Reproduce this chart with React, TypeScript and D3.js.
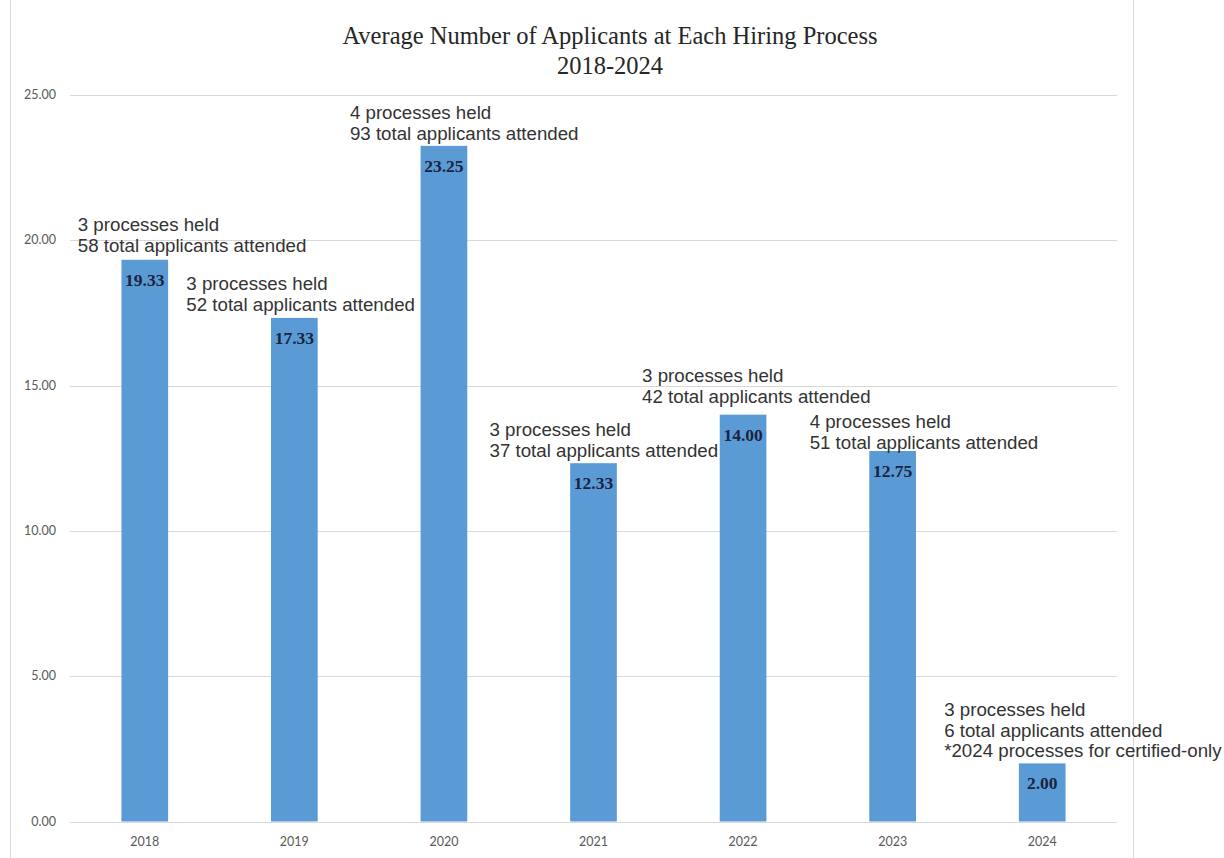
import React, { useEffect } from "react";
import * as d3 from "d3";

const years = ["2018", "2019", "2020", "2021", "2022", "2023", "2024"];
const averages = [19.33, 17.33, 23.25, 12.33, 14.0, 12.75, 2.0];
const processesHeld = [3, 3, 4, 3, 3, 4, 3];
const totalApplicants = [58, 52, 93, 37, 42, 51, 6];
const footnotes = ["", "", "", "", "", "", "*2024 processes for certified-only"];
const yTicks = [0, 5, 10, 15, 20, 25];

// layout offsets for the hand-placed annotations (relative to bar center / top)
const annDx = [-67, -108, -94, -104, -101, -83, -98];
const annDy = [-8, -7, -6, -6, -12, -2, -6];

const W = 1224;
const H = 858;
const M = { left: 70, right: 1117, top: 95, bottom: 821.5 };

export default function App() {
  useEffect(() => {
    document.body.style.margin = "0";
  }, []);

  const x = d3.scaleBand<string>().domain(years).range([M.left, M.right]).padding(0);
  const y = d3.scaleLinear().domain([0, 25]).range([M.bottom, M.top]);
  const barW = x.bandwidth() * 0.312;
  const lineH = 20.7;

  return (
    <svg width={W} height={H} style={{ display: "block", background: "#fff" }}>
      <line x1={10.5} x2={10.5} y1={0} y2={H} stroke="#d9d9d9" />
      <line x1={1133.5} x2={1133.5} y1={0} y2={H} stroke="#d9d9d9" />
      <text x={610} y={44} textAnchor="middle" fontFamily="'Liberation Serif', 'Times New Roman', serif" fontSize={24.5} fill="#262626">
        Average Number of Applicants at Each Hiring Process
      </text>
      <text x={610} y={74} textAnchor="middle" fontFamily="'Liberation Serif', 'Times New Roman', serif" fontSize={24.5} fill="#262626">
        2018-2024
      </text>
      {yTicks.map((t) => (
        <g key={t}>
          <line x1={M.left} x2={M.right} y1={Math.round(y(t)) + 0.5} y2={Math.round(y(t)) + 0.5} stroke="#d9d9d9" />
          <text x={56} y={y(t) + 4} textAnchor="end" fontFamily="Lato, 'Liberation Sans', sans-serif" fontSize={12.5} fill="#595959">
            {t.toFixed(2)}
          </text>
        </g>
      ))}
      {years.map((yr, i) => {
        const cx = (x(yr) as number) + x.bandwidth() / 2;
        const top = y(averages[i]);
        const lines = [
          `${processesHeld[i]} processes held`,
          `${totalApplicants[i]} total applicants attended`,
        ];
        if (footnotes[i]) lines.push(footnotes[i]);
        const lastBase = top + annDy[i];
        return (
          <g key={yr}>
            <rect x={cx - barW / 2} y={top} width={barW} height={y(0) - top} fill="#5b9bd5" />
            <text x={cx} y={top + 26} textAnchor="middle" fontFamily="'Liberation Serif', 'Times New Roman', serif" fontWeight="bold" fontSize={17.5} fill="#1a2340">
              {averages[i].toFixed(2)}
            </text>
            <text x={cx} y={846} textAnchor="middle" fontFamily="Lato, 'Liberation Sans', sans-serif" fontSize={12.5} fill="#595959">
              {yr}
            </text>
            {lines.map((l, k) => (
              <text key={k} x={cx + annDx[i]} y={lastBase - (lines.length - 1 - k) * lineH} fontFamily="'Liberation Sans', Arial, sans-serif" fontSize={18.7} fill="#333">
                {l}
              </text>
            ))}
          </g>
        );
      })}
    </svg>
  );
}
